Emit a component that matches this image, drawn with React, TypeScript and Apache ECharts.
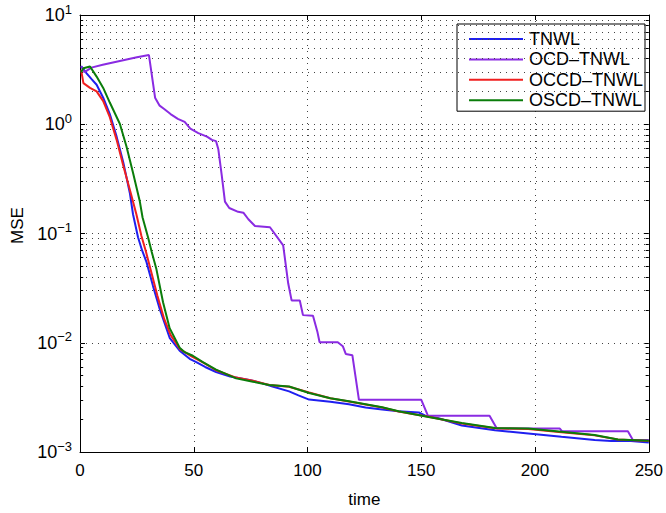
import React, { useEffect, useRef } from "react";
import * as echarts from "echarts";

const seriesNames = ["TNWL", "OCD–TNWL", "OCCD–TNWL", "OSCD–TNWL"];
const seriesColors = ["#1f1ff0", "#8a2be2", "#f01f1f", "#0a7d0a"];

const tnwlX = [0.5, 2.9, 5, 7.3, 10.2, 13.1, 16.1, 19, 21.9, 23.3, 25.5, 27.3, 29.2, 32.1, 35, 37, 39.4, 43.8, 48.2, 51.1, 55, 59.8, 66, 74.4, 80.2, 84.6, 91.9, 96, 100.7, 110, 118.2, 125.5, 132.8, 140, 148.9, 151.8, 157.6, 167.8, 182.4, 197, 211.6, 226.2, 233.5, 240.8, 250];
const tnwlY = [3.4, 2.92, 2.6, 2.3, 1.75, 1.24, 0.77, 0.45, 0.235, 0.15, 0.0925, 0.07, 0.055, 0.033, 0.0205, 0.0155, 0.0111, 0.00845, 0.00713, 0.00664, 0.006, 0.0054, 0.0049, 0.00457, 0.00425, 0.00398, 0.00359, 0.0033, 0.00302, 0.00288, 0.00273, 0.00255, 0.00245, 0.00236, 0.0023, 0.00215, 0.00204, 0.00175, 0.00158, 0.00148, 0.00138, 0.00129, 0.00126, 0.00127, 0.00122];

const ocdX = [0.5, 2, 5, 10, 15, 20, 25, 30.3, 33, 35, 37, 39.8, 43, 46, 48.5, 52, 55.8, 58, 59.8, 60.8, 62.3, 63.7, 65.6, 69.5, 71.8, 74, 76.9, 83.5, 89.3, 91.5, 93, 96.6, 98, 102.4, 104.3, 105.3, 113.3, 115.5, 116.8, 119.7, 122.6, 150, 152.9, 180, 183.2, 210.9, 211.8, 240.8, 243, 250];
const ocdY = [3.4, 3.0, 3.3, 3.5, 3.7, 3.9, 4.1, 4.3, 1.75, 1.48, 1.38, 1.24, 1.12, 1.05, 0.91, 0.83, 0.77, 0.72, 0.7, 0.59, 0.34, 0.196, 0.171, 0.158, 0.155, 0.135, 0.117, 0.114, 0.078, 0.035, 0.0244, 0.0244, 0.0179, 0.0177, 0.0127, 0.0101, 0.0101, 0.0093, 0.0079, 0.0077, 0.003, 0.003, 0.00215, 0.00215, 0.00164, 0.00164, 0.00155, 0.00155, 0.00129, 0.00129];

const occdX = [0.5, 1.5, 4.4, 7.3, 10.2, 13.1, 16.1, 19, 22.3, 24.8, 27, 29, 31, 34, 37, 39.8, 43.8, 49, 54, 59.8, 68.6, 76, 83.2, 91.9, 100.7, 110, 118.2, 132.8, 140, 153.2, 167.8, 182.4, 197, 211.6, 226.2, 236.4, 250];
const occdY = [3.13, 2.38, 2.15, 2.0, 1.63, 1.16, 0.72, 0.42, 0.235, 0.149, 0.095, 0.068, 0.047, 0.027, 0.0165, 0.0118, 0.0088, 0.0075, 0.0066, 0.0056, 0.0048, 0.0045, 0.0041, 0.00395, 0.0035, 0.0031, 0.0029, 0.00255, 0.00235, 0.0021, 0.00182, 0.00165, 0.00162, 0.00152, 0.00142, 0.0013, 0.00126];

const oscdX = [0.5, 1.5, 4.4, 7.3, 10.2, 13.1, 17.5, 20.4, 23.3, 26.3, 27.5, 29.9, 31.5, 33.6, 36.5, 39.4, 43.8, 46, 49.6, 54, 59.8, 68.6, 76, 83.2, 91.9, 100.7, 110, 118.2, 132.8, 140, 153.2, 167.8, 182.4, 197, 211.6, 226.2, 236.4, 250];
const oscdY = [3.0, 3.25, 3.38, 2.73, 2.15, 1.58, 1.01, 0.63, 0.36, 0.196, 0.14, 0.0925, 0.068, 0.047, 0.0235, 0.0136, 0.009, 0.0082, 0.0076, 0.00664, 0.00568, 0.00472, 0.0044, 0.0041, 0.00398, 0.00347, 0.0031, 0.00292, 0.00257, 0.00236, 0.00209, 0.00184, 0.00166, 0.00164, 0.00153, 0.00143, 0.0013, 0.00127];

const xTicks = [0, 50, 100, 150, 200, 250];
const decades = [0.001, 0.01, 0.1, 1, 10];
const minorMultipliers = [2, 3, 4, 5, 6, 7, 8, 9];

const FONT = "'Liberation Sans', Arial, Helvetica, sans-serif";

export default function App() {
  const ref = useRef<HTMLDivElement>(null);
  useEffect(() => {
    if (!ref.current) return;
    const chart = echarts.init(ref.current, null, { renderer: "svg" });
    const xs = [tnwlX, ocdX, occdX, oscdX];
    const ys = [tnwlY, ocdY, occdY, oscdY];
    const minorVals: number[] = [];
    decades.slice(0, 4).forEach((d) => minorMultipliers.forEach((m) => minorVals.push(+(d * m).toPrecision(3))));
    const xMin = xTicks[0];
    const xMax = xTicks[xTicks.length - 1];
    const dotted = { color: "#444", width: 1, type: [1, 5] as number[] };

    const lineSeries = seriesNames.map((name, i) => ({
      name,
      type: "line",
      data: xs[i].map((x, j) => [x, ys[i][j]]),
      symbol: "none",
      showSymbol: false,
      lineStyle: { color: seriesColors[i], width: 2 },
      itemStyle: { color: seriesColors[i] },
      z: 5 + i,
      silent: true,
    }));

    const gridSeries = {
      name: "__grid",
      type: "line",
      data: [],
      silent: true,
      z: 1,
      markLine: {
        silent: true,
        symbol: "none",
        label: { show: false },
        animation: false,
        lineStyle: dotted,
        data: minorVals.map((v) => ({ yAxis: v, lineStyle: dotted })),
      },
    };
    const minorTickSeries = {
      name: "__ticks",
      type: "line",
      data: [],
      silent: true,
      z: 3,
      markLine: {
        silent: true,
        symbol: "none",
        label: { show: false },
        animation: false,
        lineStyle: { color: "#000", width: 1, type: "solid" },
        data: minorVals.flatMap((v) => [
          [{ coord: [xMin, v] }, { coord: [xMin + 1.4, v] }],
          [{ coord: [xMax - 1.4, v] }, { coord: [xMax, v] }],
        ]),
      },
    };

    const yLabel = (v: number) => {
      const e = Math.round(Math.log10(v));
      const es = e < 0 ? "−" + -e : String(e);
      return `{b|10}{e|${es}}`;
    };

    chart.setOption({
      animation: false,
      backgroundColor: "#fff",
      textStyle: { fontFamily: FONT },
      grid: { left: 80, right: 15, top: 15, bottom: 49, containLabel: false },
      legend: {
        data: seriesNames,
        orient: "vertical",
        left: 457,
        top: 24,
        backgroundColor: "#fff",
        borderColor: "#000",
        borderWidth: 1,
        borderRadius: 0,
        padding: [5, 2, 1, 12],
        icon: "rect",
        itemWidth: 54,
        itemHeight: 2,
        itemGap: 0.4,
        textStyle: { fontSize: 18, lineHeight: 20, color: "#000", fontFamily: FONT, padding: [0, 0, 0, 1] },
        selectedMode: false,
      },
      xAxis: [
        {
          type: "value",
          min: xMin,
          max: xMax,
          interval: 50,
          name: "time",
          nameLocation: "middle",
          nameGap: 39,
          nameTextStyle: { fontSize: 17, color: "#000", fontFamily: FONT },
          axisLine: { show: true, onZero: false, lineStyle: { color: "#000", width: 1 } },
          axisTick: { show: true, inside: true, length: 5, lineStyle: { color: "#000" } },
          axisLabel: { fontSize: 17, color: "#000", margin: 10, fontFamily: FONT },
          splitLine: { show: true, lineStyle: dotted },
        },
        {
          type: "value",
          position: "top",
          min: xMin,
          max: xMax,
          interval: 50,
          axisLine: { show: true, onZero: false, lineStyle: { color: "#000", width: 1 } },
          axisTick: { show: true, inside: true, length: 5, lineStyle: { color: "#000" } },
          axisLabel: { show: false },
          splitLine: { show: false },
        },
      ],
      yAxis: [
        {
          type: "log",
          logBase: 10,
          min: decades[0],
          max: decades[decades.length - 1],
          name: "MSE",
          nameLocation: "middle",
          nameGap: 54,
          nameTextStyle: { fontSize: 17, color: "#000", fontFamily: FONT, padding: [0, 0, 0, 16] },
          axisLine: { show: true, onZero: false, lineStyle: { color: "#000", width: 1 } },
          axisTick: { show: true, inside: true, length: 5, lineStyle: { color: "#000" } },
          axisLabel: {
            formatter: yLabel,
            margin: 8,
            color: "#000",
            rich: {
              b: { fontSize: 18, color: "#000", fontFamily: FONT },
              e: { fontSize: 13, color: "#000", fontFamily: FONT, padding: [0, 0, 12, 0] },
            },
          },
          splitLine: { show: true, lineStyle: dotted },
        },
        {
          type: "log",
          logBase: 10,
          position: "right",
          min: decades[0],
          max: decades[decades.length - 1],
          axisLine: { show: true, onZero: false, lineStyle: { color: "#000", width: 1 } },
          axisTick: { show: true, inside: true, length: 5, lineStyle: { color: "#000" } },
          axisLabel: { show: false },
          splitLine: { show: false },
        },
      ],
      series: [gridSeries, minorTickSeries, ...lineSeries],
    });
    return () => chart.dispose();
  }, []);
  return <div ref={ref} style={{ position: "fixed", left: 0, top: 0, width: 666, height: 513 }} />;
}
